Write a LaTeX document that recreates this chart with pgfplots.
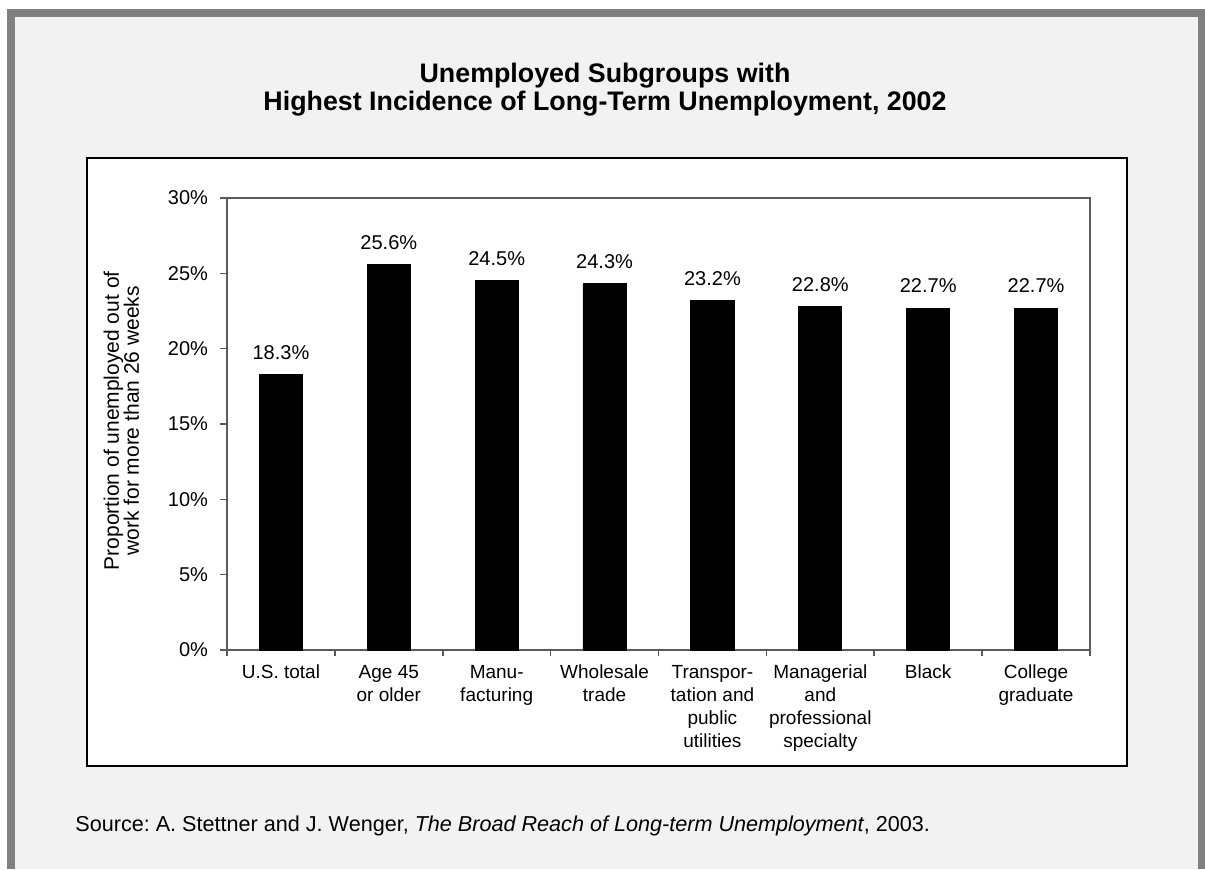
\documentclass[border=0pt]{standalone}
\usepackage{fontspec}
\setmainfont{Liberation Sans}
\usepackage{pgfplots}
\pgfplotsset{compat=1.18}
\definecolor{bggray}{HTML}{F2F2F2}
\definecolor{framegray}{HTML}{808080}
\definecolor{axisgray}{HTML}{5A5A5A}
\frenchspacing
\begin{document}
\begin{tikzpicture}
\useasboundingbox (0,0) rectangle (602.5pt,-434.5pt);
\begin{scope}[x=0.5pt,y=-0.5pt]
\fill[white] (0,0) rectangle (1205,869);
\fill[framegray] (7,9) rectangle (1205,869);
\fill[bggray] (15,17) rectangle (1198,869);
\filldraw[fill=white,draw=black,line width=1pt] (87,158) rectangle (1127,766);
\node[font=\bfseries\fontsize{13.4}{14}\selectfont, align=center] at (605,90) {Unemployed Subgroups with\\Highest Incidence of Long-Term Unemployment, 2002};
\node[anchor=west, font=\fontsize{10.8}{12}\selectfont, inner sep=0pt] at (75,826) {Source: A. Stettner and J. Wenger, \textit{The Broad Reach of Long-term Unemployment}, 2003.};
\end{scope}
\begin{axis}[
  at={(113.5pt,-325pt)}, anchor=south west,
  scale only axis, width=431.5pt, height=226pt,
  /pgf/number format/assume math mode=true,
  ymin=0, ymax=30, ytick={0,5,...,30},
  yticklabel={\pgfmathprintnumber{\tick}\%},
  yticklabel style={font=\fontsize{10}{12}\selectfont, xshift=-2.5pt},
  xmin=-0.5, xmax=7.5, xtick={0,...,7},
  xticklabels={\strut U.S. total, {\strut Age 45\\or older}, {\strut Manu-\\facturing}, {\strut Wholesale\\trade}, {\strut Transpor-\\tation and\\public\\utilities}, {\strut Managerial\\and\\professional\\specialty}, \strut Black, {\strut College\\graduate}},
  xticklabel style={align=center, font=\fontsize{9.5}{11.5}\selectfont, yshift=1pt},
  axis line style={axisgray, line width=1pt},
  tick style={axisgray, line width=0.8pt},
  tick pos=left, tick align=outside, major tick length=3.5pt,
  xtick style={draw=none},
  extra x ticks={-0.5,0.5,...,7.5}, extra x tick labels={},
  extra x tick style={xtick style={draw=axisgray}, major tick length=3pt},
  ylabel={Proportion of unemployed out of\\work for more than 26 weeks},
  ylabel style={at={(axis description cs:-0.1225,0.507)}, anchor=center, align=center, font=\fontsize{10.5}{10}\selectfont},
  ybar, bar width=0.4, bar shift=0pt,
  nodes near coords={\pgfmathprintnumber[fixed,fixed zerofill,precision=1]{\pgfplotspointmeta}\%},
  every node near coord/.append style={font=\fontsize{10}{12}\selectfont, yshift=4pt, text=black},
]
\addplot[fill=black, draw=black] coordinates {(0,18.3) (1,25.6) (2,24.5) (3,24.3) (4,23.2) (5,22.8) (6,22.7) (7,22.7)};
\end{axis}
\end{tikzpicture}
\end{document}
